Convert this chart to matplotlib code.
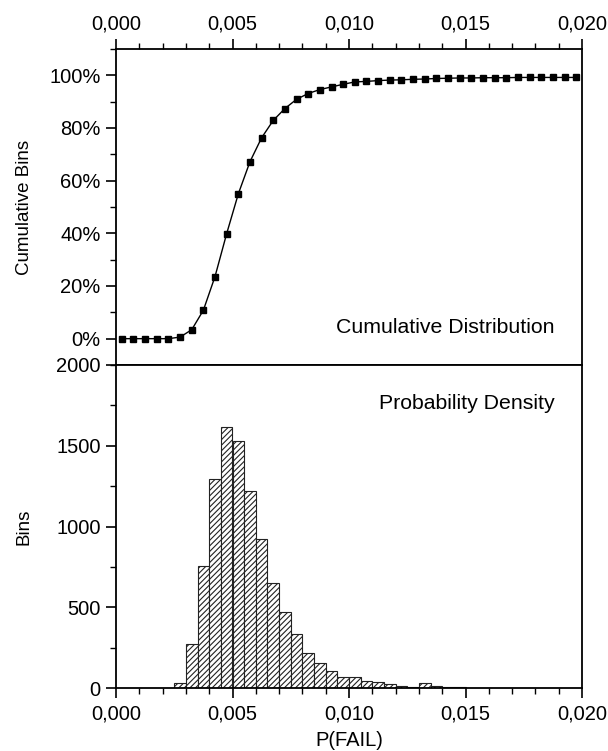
import numpy as np
import matplotlib
matplotlib.use("Agg")
import matplotlib.pyplot as plt
from matplotlib.ticker import MultipleLocator, FuncFormatter

plt.rcParams['font.family'] = ['Liberation Sans', 'DejaVu Sans']
plt.rcParams['hatch.linewidth'] = 0.8

# histogram: left edges of 0.0005 wide bins and counts
bin_left = [0.0025, 0.0030, 0.0035, 0.0040, 0.0045, 0.0050, 0.0055, 0.0060,
            0.0065, 0.0070, 0.0075, 0.0080, 0.0085, 0.0090, 0.0095, 0.0100,
            0.0105, 0.0110, 0.0115, 0.0120, 0.0125, 0.0130, 0.0135, 0.0140,
            0.0145]
bin_count = [30, 275, 758, 1294, 1617, 1532, 1222, 924,
             653, 468, 335, 214, 157, 106, 68, 70,
             42, 40, 25, 10, 6, 30, 10, 5,
             5]
bin_width = 0.0005

# cumulative distribution points (fraction)
cum_x = [0.00025, 0.00075, 0.00125, 0.00175, 0.00225, 0.00275, 0.00325, 0.00375,
         0.00425, 0.00475, 0.00525, 0.00575, 0.00625, 0.00675, 0.00725, 0.00775,
         0.00825, 0.00875, 0.00925, 0.00975, 0.01025, 0.01075, 0.01125, 0.01175,
         0.01225, 0.01275, 0.01325, 0.01375, 0.01425, 0.01475, 0.01525, 0.01575,
         0.01625, 0.01675, 0.01725, 0.01775, 0.01825, 0.01875, 0.01925, 0.01975]
cum_y = [0.0, 0.0, 0.0, 0.0, 0.0, 0.006, 0.034, 0.108,
         0.236, 0.399, 0.550, 0.672, 0.763, 0.829, 0.874, 0.909,
         0.931, 0.946, 0.956, 0.966, 0.975, 0.977, 0.980, 0.982,
         0.983, 0.985, 0.986, 0.988, 0.989, 0.990, 0.990, 0.991,
         0.991, 0.991, 0.992, 0.992, 0.992, 0.992, 0.992, 0.992]

W, H = 608, 751
fig = plt.figure(figsize=(W / 100, H / 100), dpi=100)
left = 116 / W
width = (582 - 116) / W
ax1 = fig.add_axes([left, 1 - 365 / H, width, 316 / H])
ax2 = fig.add_axes([left, 1 - 688 / H, width, 323 / H])

comma = FuncFormatter(lambda v, p: f"{v:.3f}".replace('.', ','))

# top panel
ax1.plot(cum_x, cum_y, color='black', lw=1.0, marker='s', ms=3.8)
ax1.set_xlim(0, 0.020)
ax1.set_ylim(-0.10, 1.10)
ax1.yaxis.set_major_locator(MultipleLocator(0.2))
ax1.yaxis.set_minor_locator(MultipleLocator(0.1))
ax1.yaxis.set_major_formatter(FuncFormatter(lambda v, p: f"{v*100:.0f}%"))
ax1.xaxis.set_major_locator(MultipleLocator(0.005))
ax1.xaxis.set_minor_locator(MultipleLocator(0.001))
ax1.xaxis.set_major_formatter(comma)
ax1.xaxis.tick_top()
ax1.set_ylabel("Cumulative Bins", fontsize=13.5)
ax1.text(0.942, 0.12, "Cumulative Distribution", transform=ax1.transAxes,
         ha='right', va='center', fontsize=15.3)

# bottom panel
ax2.bar(bin_left, bin_count, width=bin_width, align='edge', color='white',
        edgecolor='#222222', linewidth=0.8, hatch='//////')
ax2.set_xlim(0, 0.020)
ax2.set_ylim(0, 2000)
ax2.yaxis.set_major_locator(MultipleLocator(500))
ax2.yaxis.set_minor_locator(MultipleLocator(250))
ax2.xaxis.set_major_locator(MultipleLocator(0.005))
ax2.xaxis.set_minor_locator(MultipleLocator(0.001))
ax2.xaxis.set_major_formatter(comma)
ax2.set_ylabel("Bins", fontsize=13.5)
ax2.set_xlabel("P(FAIL)", fontsize=14.5, labelpad=5)
ax2.text(0.942, 0.882, "Probability Density", transform=ax2.transAxes,
         ha='right', va='center', fontsize=15.3)

for ax in (ax1, ax2):
    for s in ax.spines.values():
        s.set_linewidth(1.3)
    ax.tick_params(which='major', length=7, width=1.2, labelsize=14.5,
                   direction='out', pad=4)
    ax.tick_params(which='minor', length=4, width=1.0, direction='out')
    ax.yaxis.set_label_coords(-0.197, 0.5)
    ax.yaxis.label.set_va('center')
ax1.tick_params(axis='x', which='both', top=True, bottom=False)
ax2.tick_params(axis='x', which='both', top=False, bottom=True)
ax2.tick_params(axis='x', which='major', pad=5)
for ax in (ax1, ax2):
    ax.tick_params(axis='y', which='both', left=True, right=False)

fig.savefig("out.png", dpi=100)
